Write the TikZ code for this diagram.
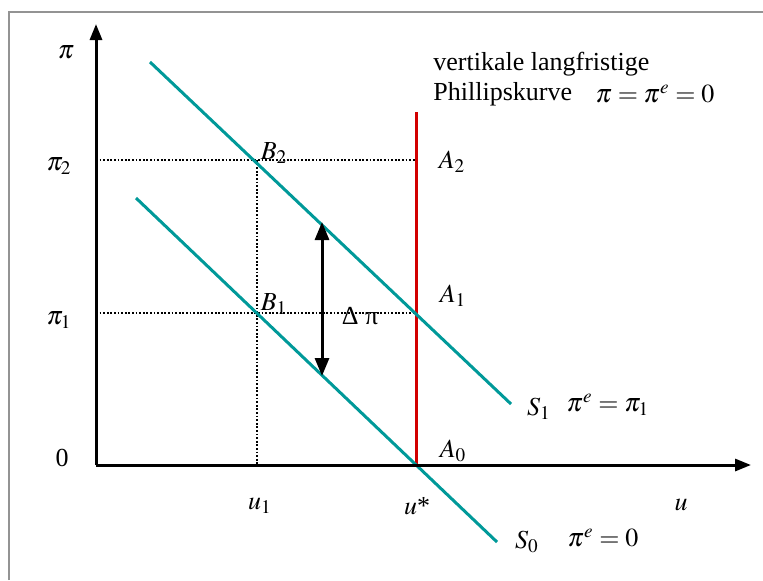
\documentclass[tikz,border=0pt]{standalone}
\usepackage{mathptmx}
\usepackage{fontspec}
\setmainfont{Liberation Serif}
\usetikzlibrary{arrows.meta}
\definecolor{kurvefarbe}{RGB}{0,153,153}
\definecolor{langfarbe}{RGB}{210,0,0}

\begin{document}
\begin{tikzpicture}[x=0.5pt,y=-0.5pt,font=\fontsize{13}{15}\selectfont,
  achse/.style={line width=1.5pt,-{Triangle[length=8pt,width=6pt]}},
  kurve/.style={line width=1.5pt,kurvefarbe},
  hilfs/.style={line width=0.9pt,dash pattern=on 0.9pt off 0.9pt},
  lbl/.style={inner sep=1pt}]
\useasboundingbox (0,0) rectangle (763,580);
\draw[gray!85,line width=1pt] (9,580) -- (9,12) -- (763,12);
\coordinate (O) at (96,465);
\coordinate (Ytop) at (96,24);
\coordinate (Xend) at (751,465);
\coordinate (A0) at (416,465);
\coordinate (A1) at (416,313);
\coordinate (A2) at (416,160);
\coordinate (Rtop) at (416,112);
\coordinate (B1) at (257,313);
\coordinate (B2) at (257,160);
\coordinate (U1) at (257,465);
\coordinate (P1) at (96,313);
\coordinate (P2) at (96,160);
\coordinate (S0a) at (136,198);
\coordinate (S0b) at (497,542);
\coordinate (S1a) at (150,62);
\coordinate (S1b) at (511,404);
\coordinate (D1) at (322,222);
\coordinate (D0) at (322,376);

\draw[hilfs] (P2) -- (A2);
\draw[hilfs] (P1) -- (A1);
\draw[hilfs] (B2) -- (U1);
\draw[langfarbe,line width=1.5pt] (A0) -- (Rtop);
\draw[kurve] (S0a) -- (S0b);
\draw[kurve] (S1a) -- (S1b);
\draw[achse] (O) -- (Ytop);
\draw[achse] (O) -- (Xend);
\draw[line width=1.5pt,{Triangle[length=9pt,width=7pt]}-{Triangle[length=9pt,width=7pt]}] (D1) -- (D0);

\node[lbl] (pi) at (66,52) {$\pi$};
\node[lbl] (pi2) at (59,166) {$\pi_2$};
\node[lbl] (pi1) at (59,320) {$\pi_1$};
\node[lbl] (null) at (62,458) {0};
\node[lbl] (u1) at (260,506) {$u_1$};
\node[lbl] (ustern) at (417,506) {$u$*};
\node[lbl] (u) at (681,505) {$u$};
\node[lbl] (a2) at (452,162) {$A_2$};
\node[lbl] (a1) at (453,296) {$A_1$};
\node[lbl] (a0) at (453,451) {$A_0$};
\node[lbl] (b2) at (274,153) {$B_2$};
\node[lbl] (b1) at (274,304) {$B_1$};
\node[lbl] (dpi) at (360,316) {Δ π};
\node[lbl] (s1) at (539,409) {$S_1$};
\node[lbl] (s1gl) at (608,405) {$\pi^e=\pi_1$};
\node[lbl] (s0) at (527,542) {$S_0$};
\node[lbl] (s0gl) at (603,538) {$\pi^e=0$};
\node[lbl,anchor=west] (txt1) at (431,64) {vertikale langfristige};
\node[lbl,anchor=west] (txt2) at (431,94) {Phillipskurve};
\node[lbl] (txtgl) at (655,94) {$\pi=\pi^e=0$};
\end{tikzpicture}
\end{document}
